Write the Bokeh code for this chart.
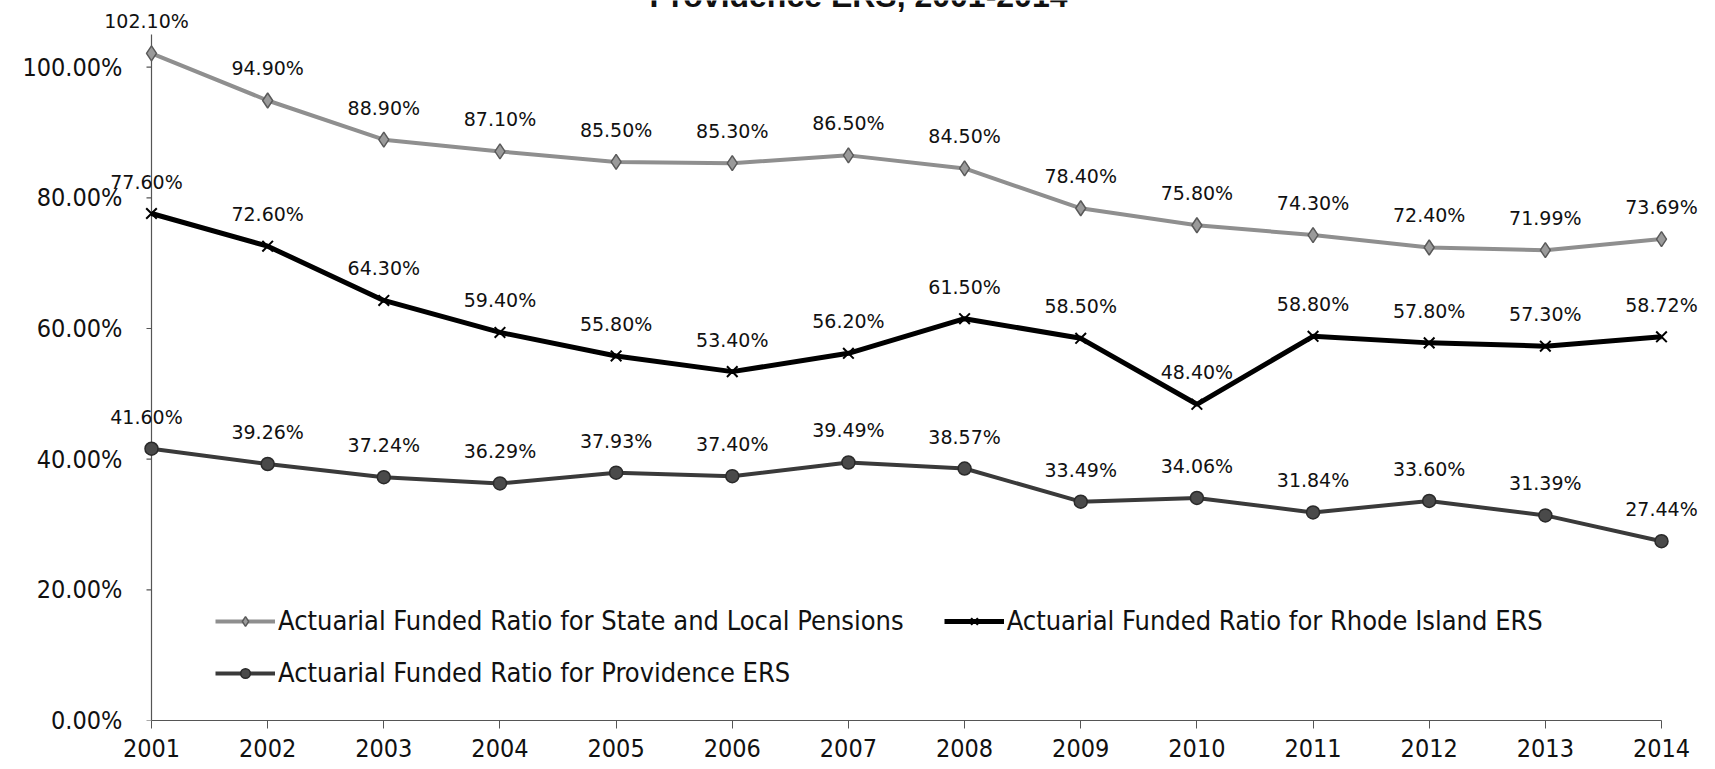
import numpy as np
from bokeh.plotting import figure
from bokeh.models import (ColumnDataSource, Range1d, FixedTicker, PrintfTickFormatter,
                          Legend, LegendItem, Label)
from bokeh.embed import file_html
from bokeh.resources import INLINE

years = [2001, 2002, 2003, 2004, 2005, 2006, 2007, 2008, 2009, 2010, 2011, 2012, 2013, 2014]
state_local = [102.10, 94.90, 88.90, 87.10, 85.50, 85.30, 86.50, 84.50, 78.40, 75.80, 74.30, 72.40, 71.99, 73.69]
rhode_island = [77.60, 72.60, 64.30, 59.40, 55.80, 53.40, 56.20, 61.50, 58.50, 48.40, 58.80, 57.80, 57.30, 58.72]
providence = [41.60, 39.26, 37.24, 36.29, 37.93, 37.40, 39.49, 38.57, 33.49, 34.06, 31.84, 33.60, 31.39, 27.44]
y_ticks = [0, 20, 40, 60, 80, 100]
names = ["Actuarial Funded Ratio for State and Local Pensions",
         "Actuarial Funded Ratio for Rhode Island ERS",
         "Actuarial Funded Ratio for Providence ERS"]
title_text = "Providence ERS, 2001-2014"

AXIS_FONT = "'Liberation Sans Narrow', 'DejaVu Sans Condensed', 'Liberation Sans', sans-serif"
LABEL_FONT = "DejaVu Sans"

# ---- geometry (pixels): the frame is widened so that value labels are never clipped,
#      while the visible axes sit where the original chart has them
W, H = 1715, 769
L, R, T, B = 100, 1710, 0, 720          # frame edges
AX_X0, AX_X1 = 151, 1661                # pixel of first / last year
Y_MAX = 105.0                           # top of the drawn y axis line
AX_YTOP = 34                            # pixel of Y_MAX
ppx = (AX_X1 - AX_X0) / (years[-1] - years[0])
ppy = (B - AX_YTOP) / Y_MAX
x_start = years[0] - (AX_X0 - L) / ppx
x_end = years[-1] + (R - AX_X1) / ppx
y_top = Y_MAX + (AX_YTOP - T) / ppy

p = figure(width=W, height=H, output_backend="svg", toolbar_location=None, title=None,
           x_range=Range1d(x_start, x_end), y_range=Range1d(0, y_top),
           min_border_left=L, min_border_right=W - R, min_border_top=T, min_border_bottom=H - B)
p.outline_line_color = None
p.xgrid.visible = False
p.ygrid.visible = False
p.background_fill_color = "white"
p.border_fill_color = "white"

AXIS_COLOR = "#555555"
p.xaxis.ticker = FixedTicker(ticks=years)
p.xaxis.bounds = (years[0], years[-1])
p.yaxis.ticker = FixedTicker(ticks=y_ticks)
p.yaxis.formatter = PrintfTickFormatter(format="%.2f%%")
for ax in (p.xaxis[0], p.yaxis[0]):
    ax.minor_tick_line_color = None
    ax.major_tick_in = 0
    ax.major_label_text_font = AXIS_FONT
    ax.major_label_text_font_size = "25px"
    ax.major_label_text_color = "#111111"
p.xaxis.axis_line_color = AXIS_COLOR
p.xaxis.axis_line_width = 1.2
p.xaxis.major_tick_line_color = AXIS_COLOR
p.xaxis.major_tick_out = 8
p.xaxis.major_label_standoff = 10
# y axis labels are placed right of the frame edge, next to the drawn axis line at the first year
p.yaxis.axis_line_color = None
p.yaxis.major_tick_line_color = None
p.yaxis.major_tick_out = 0
p.yaxis.major_label_standoff = -(AX_X0 - 29 - L)

# visible y axis line and its tick marks at the first year
p.segment(x0=[years[0]], y0=[y_ticks[0]], x1=[years[0]], y1=[Y_MAX],
          line_color=AXIS_COLOR, line_width=1.2)
p.ray(x=[years[0]] * len(y_ticks), y=y_ticks, length=5, length_units="screen",
      angle=np.pi, line_color=AXIS_COLOR, line_width=1.2)

series = [
    (state_local, "#8f8f8f", 4, "diamond", 15, "#9a9a9a", "#5a5a5a"),
    (rhode_island, "#000000", 5, "x", 15, "#000000", "#000000"),
    (providence, "#3a3a3a", 4, "circle", 13, "#4a4a4a", "#2a2a2a"),
]
items = []
for (vals, color, lw, marker, msize, mfill, mline), name in zip(series, names):
    src = ColumnDataSource(dict(x=years, y=vals))
    ln = p.line("x", "y", source=src, line_color=color, line_width=lw)
    sc = p.scatter("x", "y", source=src, marker=marker, size=msize,
                   fill_color=mfill, line_color=mline, line_width=2 if marker == "x" else 1.5)
    for i, (xv, yv) in enumerate(zip(years, vals)):
        p.add_layout(Label(x=xv, y=yv, text=f"{yv:.2f}%", text_font=LABEL_FONT,
                           text_font_size="19px", text_color="#111111", text_align="center",
                           text_baseline="middle", y_offset=32,
                           x_offset=-5 if i == 0 else 0))
    items.append(LegendItem(label=name, renderers=[ln, sc]))

legend_style = dict(border_line_color=None, background_fill_alpha=0,
                    label_text_font=AXIS_FONT, label_text_font_size="27px",
                    label_text_color="#111111", glyph_width=60, glyph_height=24,
                    label_height=24, label_standoff=3, padding=0, margin=0)
legend1 = Legend(items=[items[0], items[1]], orientation="horizontal", spacing=40,
                 location=(215 - L, 84), **legend_style)
legend2 = Legend(items=[items[2]], orientation="horizontal", spacing=40,
                 location=(215 - L, 32), **legend_style)
p.add_layout(legend1, "center")
p.add_layout(legend2, "center")

# title: only its lower part is visible at the very top of the image (as in the source)
tx = x_start + (858 - L) / ppx
ty = y_top + (5 - T) / ppy
p.add_layout(Label(x=tx, y=ty, text=title_text, text_font="'Liberation Sans', sans-serif",
                   text_font_size="32px", text_font_style="bold", text_align="center",
                   text_baseline="alphabetic", text_color="#111111"))

open("out.html", "w").write(file_html(p, INLINE))
